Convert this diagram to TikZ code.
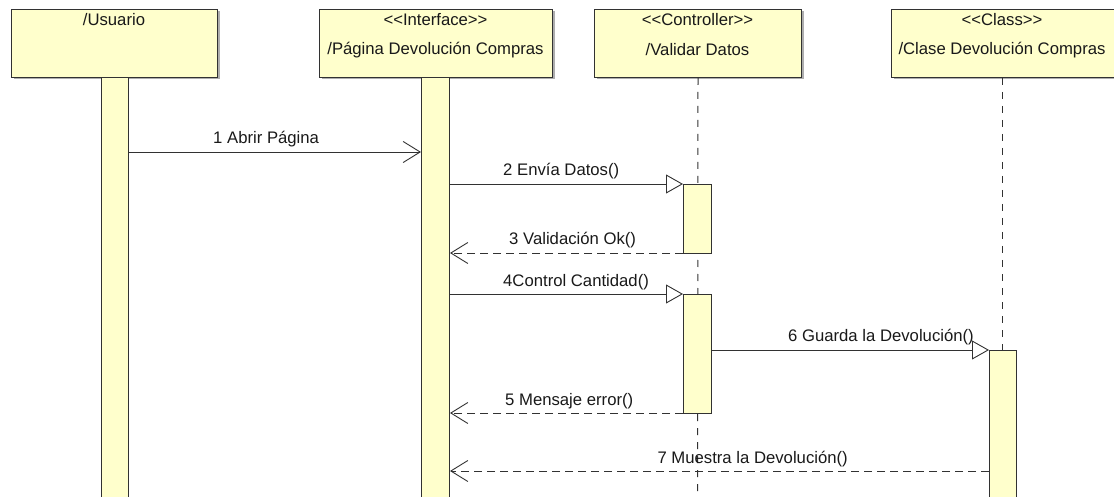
\documentclass[tikz,border=0pt]{standalone}
\usepackage{fontspec}
\newfontfamily\umlfont{Liberation Sans}
\usetikzlibrary{arrows.meta,shadows}
\definecolor{umlfill}{RGB}{255,255,204}
\definecolor{umlline}{RGB}{50,50,50}
\definecolor{umltext}{RGB}{25,25,25}
\begin{document}
\begin{tikzpicture}[x=1pt,y=-1pt,
  font=\umlfont\fontsize{16.7}{19}\selectfont, text=umltext,
  hdr/.style={draw=umlline, fill=umlfill, line width=1pt, inner sep=0pt, anchor=north west,
    drop shadow={shadow xshift=2pt, shadow yshift=-2pt, fill=black!45, opacity=0.7}},
  actbar/.style={draw=umlline, fill=umlfill, line width=1pt, inner sep=0pt, anchor=north west, minimum width=27pt},
  life/.style={draw=umlline, line width=1pt, dash pattern=on 7pt off 7pt},
  msg/.style={draw=umlline, line width=0.9pt},
  ret/.style={draw=umlline, line width=0.9pt, dash pattern=on 8pt off 5pt},
  callTip/.style={-{Triangle[length=17pt,width=19pt,fill=white,line width=0.9pt]}},
  openTip/.style={-{Straight Barb[length=17pt,width=21pt,line width=0.9pt]}},
  lbl/.style={anchor=base west, inner sep=0pt},
  lblr/.style={anchor=base east, inner sep=0pt},
  ttl/.style={inner sep=0pt}]
\useasboundingbox (0,0) rectangle (1114,497);

% header boxes
\node[hdr, minimum width=206pt, minimum height=68pt] (usr) at (11,9) {};
\node[hdr, minimum width=233pt, minimum height=68pt] (int) at (319,9) {};
\node[hdr, minimum width=207pt, minimum height=68pt] (ctl) at (594,9) {};
\node[hdr, minimum width=226pt, minimum height=68pt] (cls) at (891,9) {};

\node[ttl] (usrT) at (114,20) {/Usuario};
\node[ttl] (intS) at (435.5,20) {<<Interface>>};
\node[ttl] (intT) at (435.5,50) {/Página Devolución Compras};
\node[ttl] (ctlS) at (697.5,20) {<<Controller>>};
\node[ttl] (ctlT) at (697.5,50) {/Validar Datos};
\node[ttl] (clsS) at (1002,20) {<<Class>>};
\node[ttl] (clsT) at (1002,50) {/Clase Devolución Compras};

% lifelines
\coordinate (ctlEnd) at (697.5,497);
\draw[life] (ctl.south) -- (ctlEnd);
\coordinate (clsEnd) at (1002,350);
\draw[life] (cls.south -| clsEnd) -- (clsEnd);

% activation bars
\node[actbar, minimum height=425pt] (ubar) at (101,77) {};
\node[actbar, minimum width=28pt, minimum height=425pt] (ibar) at (421,77) {};
\node[actbar, minimum width=28pt, minimum height=69pt] (cbarA) at (683,184) {};
\node[actbar, minimum width=28pt, minimum height=119pt] (cbarB) at (683,294) {};
\node[actbar, minimum height=152pt] (sbar) at (989,350) {};

% message levels
\coordinate (m1) at (0,152);
\coordinate (m2) at (0,184);
\coordinate (m3) at (0,253);
\coordinate (m4) at (0,294);
\coordinate (m6) at (0,350);
\coordinate (m5) at (0,413);
\coordinate (m7) at (0,471);

\draw[msg, openTip] (ubar.east |- m1) -- (ibar.west |- m1);
\draw[msg, callTip] (ibar.east |- m2) -- (cbarA.west |- m2);
\draw[ret, openTip] (cbarA.west |- m3) -- (ibar.east |- m3);
\draw[msg, callTip] (ibar.east |- m4) -- (cbarB.west |- m4);
\draw[msg, callTip] (cbarB.east |- m6) -- (sbar.west |- m6);
\draw[ret, openTip] (cbarB.west |- m5) -- (ibar.east |- m5);
\draw[ret, openTip] (sbar.west |- m7) -- (ibar.east |- m7);

% labels
\node[lbl] (l1) at (213,144) {1 Abrir Página};
\node[lbl] (l2) at (503,176) {2 Envía Datos()};
\node[lbl] (l3) at (509,244) {3 Validación Ok()};
\node[lbl] (l4) at (503,286) {4Control Cantidad()};
\node[lblr] (l6) at (974,341) {6 Guarda la Devolución()};
\node[lbl] (l5) at (505,405) {5 Mensaje error()};
\node[lblr] (l7) at (848,463) {7 Muestra la Devolución()};
\end{tikzpicture}
\end{document}
